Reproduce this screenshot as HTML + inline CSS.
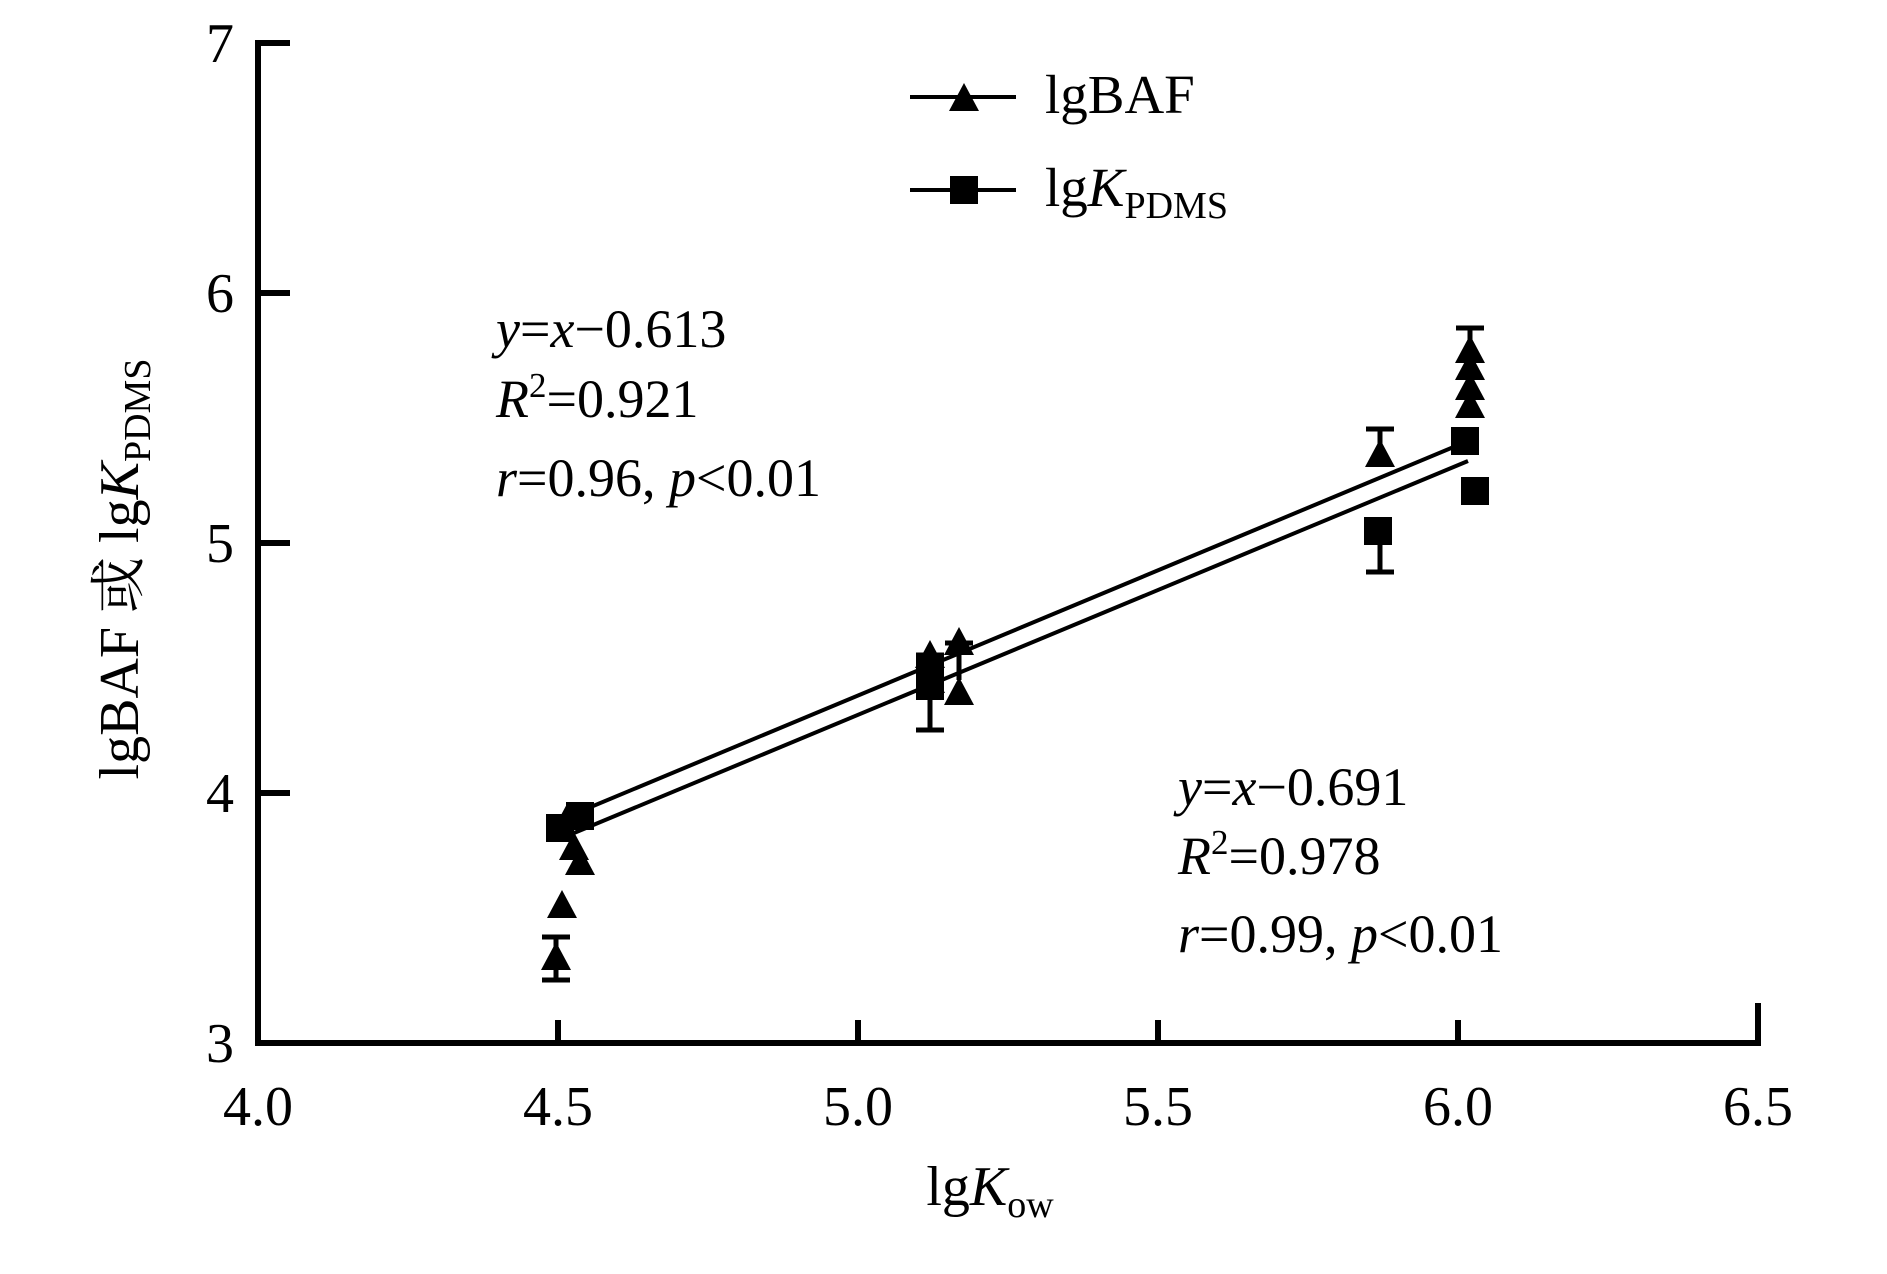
<!DOCTYPE html><html><head><style>body{margin:0;background:#fff}svg{display:block}text{font-family:"Liberation Serif","Noto Serif CJK SC",serif;fill:#000}</style></head><body>
<svg width="1887" height="1274" viewBox="0 0 1887 1274" xmlns="http://www.w3.org/2000/svg">
<defs>
<path id="t" d="M0,-16 L15,12 L-15,12Z"/>
<rect id="s" x="-14" y="-14" width="28" height="28"/>
</defs>
<g stroke="#000" stroke-width="6" fill="none">
<path d="M290,43 H258 V1043 H1758 V1003"/>
<path d="M258,293 H290 M258,543 H290 M258,793 H290"/>
<path d="M558,1043 V1020 M858,1043 V1020 M1158,1043 V1020 M1458,1043 V1020"/>
</g>
<g font-size="56" text-anchor="middle">
<text x="220" y="62">7</text><text x="220" y="312">6</text><text x="220" y="562">5</text><text x="220" y="812">4</text><text x="220" y="1062">3</text>
<text x="258" y="1125">4.0</text><text x="558" y="1125">4.5</text><text x="858" y="1125">5.0</text><text x="1158" y="1125">5.5</text><text x="1458" y="1125">6.0</text><text x="1758" y="1125">6.5</text>
<text x="990" y="1205">lg<tspan font-style="italic">K</tspan><tspan font-size="38" dy="12">ow</tspan></text>
<text transform="translate(138,569) rotate(-90)">lgBAF 或 lg<tspan font-style="italic">K</tspan><tspan font-size="38" dy="12">PDMS</tspan></text>
</g>
<g stroke="#000" stroke-width="4">
<line x1="574" y1="814" x2="1468" y2="441"/>
<line x1="574" y1="833" x2="1468" y2="461"/>
<line x1="910" y1="97" x2="1016" y2="97"/><line x1="910" y1="190" x2="1016" y2="190"/>
</g>
<g stroke="#000" stroke-width="5">
<path d="M556,980 V937 M542,980 H570 M542,937 H570"/>
<path d="M930,680 V655 M916,655 H944"/>
<path d="M959,680 V643 M945,643 H973"/>
<path d="M930,700 V730 M916,730 H944"/>
<path d="M1380,450 V429 M1366,429 H1394"/>
<path d="M1380,530 V572 M1366,572 H1394"/>
<path d="M1470,380 V328 M1456,328 H1484"/>
</g>
<g fill="#000">
<use href="#t" x="562" y="906"/><use href="#t" x="556" y="958"/><use href="#t" x="574" y="848"/><use href="#t" x="580" y="863"/><use href="#t" x="568" y="818"/>
<use href="#t" x="930" y="656"/><use href="#t" x="959" y="643"/><use href="#t" x="959" y="693"/><use href="#t" x="930" y="681"/>
<use href="#t" x="1380" y="455"/>
<use href="#t" x="1470" y="351"/><use href="#t" x="1470" y="368"/><use href="#t" x="1470" y="388"/><use href="#t" x="1470" y="406"/>
<use href="#s" x="560" y="828"/><use href="#s" x="580" y="816"/><use href="#s" x="930" y="668"/><use href="#s" x="930" y="686"/>
<use href="#s" x="1378" y="531"/><use href="#s" x="1465" y="441"/><use href="#s" x="1475" y="491"/>
<use href="#t" x="964" y="99"/><use href="#s" x="964" y="190"/>
</g>
<g font-size="55">
<text x="1045" y="113">lgBAF</text>
<text x="1045" y="206">lg<tspan font-style="italic">K</tspan><tspan font-size="38" dy="12">PDMS</tspan></text>
</g>
<g font-size="54">
<text x="496" y="347"><tspan font-style="italic">y</tspan>=<tspan font-style="italic">x</tspan>−0.613</text>
<text x="496" y="417"><tspan font-style="italic">R</tspan><tspan font-size="35" dy="-20">2</tspan><tspan dy="20">=0.921</tspan></text>
<text x="496" y="496"><tspan font-style="italic">r</tspan>=0.96,  <tspan font-style="italic">p</tspan>&lt;0.01</text>
<text x="1178" y="805"><tspan font-style="italic">y</tspan>=<tspan font-style="italic">x</tspan>−0.691</text>
<text x="1178" y="874"><tspan font-style="italic">R</tspan><tspan font-size="35" dy="-20">2</tspan><tspan dy="20">=0.978</tspan></text>
<text x="1178" y="952"><tspan font-style="italic">r</tspan>=0.99,  <tspan font-style="italic">p</tspan>&lt;0.01</text>
</g>
</svg></body></html>
